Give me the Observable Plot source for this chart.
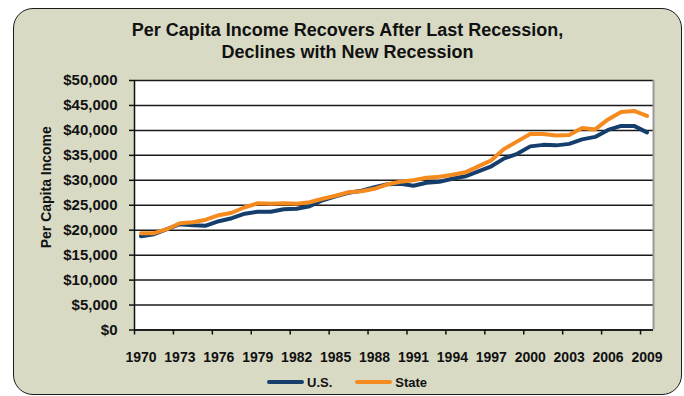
<!DOCTYPE html>
<html>
<head>
<meta charset="utf-8">
<script src="https://cdn.jsdelivr.net/npm/d3@7"></script>
<script src="https://cdn.jsdelivr.net/npm/@observablehq/plot@0.6"></script>
<style>
  html, body { margin: 0; padding: 0; background: #ffffff; }
  body { width: 684px; height: 396px; overflow: hidden; position: relative;
         font-family: "Liberation Sans", Arial, sans-serif; color: #111; }
  #card { position: absolute; left: 13px; top: 8px; width: 669px; height: 387px;
          box-sizing: border-box; border: 1.5px solid #1b1b1b; border-radius: 20px;
          background: #D8DAC4; }
  #title { position: absolute; left: 13px; width: 669px; top: 19px; text-align: center;
           font-weight: bold; font-size: 18px; line-height: 22px; color: #111; }
  #chart { position: absolute; left: 0; top: 0; }
  #legend { position: absolute; top: 374px; left: 267px; height: 16px; display: flex;
            align-items: center; font-weight: bold; font-size: 13px; color: #111; }
  .sw { display: inline-block; width: 37px; height: 4px; border-radius: 2px; margin-right: 3px; }
  .item { display: flex; align-items: center; margin-right: 23px; }
</style>
</head>
<body>
<div id="card"></div>
<div id="title">Per Capita Income Recovers After Last Recession,<br>Declines with New Recession</div>
<div id="chart"></div>
<div id="legend"></div>
<script>
// ---- data ----
const years = [1970, 1971, 1972, 1973, 1974, 1975, 1976, 1977, 1978, 1979,
               1980, 1981, 1982, 1983, 1984, 1985, 1986, 1987, 1988, 1989,
               1990, 1991, 1992, 1993, 1994, 1995, 1996, 1997, 1998, 1999,
               2000, 2001, 2002, 2003, 2004, 2005, 2006, 2007, 2008, 2009];
const usIncome = [18800, 19200, 20200, 21200, 21000, 20900, 21800, 22400, 23300, 23700,
                  23700, 24200, 24300, 24800, 26000, 26800, 27500, 27900, 28600, 29200,
                  29300, 28900, 29500, 29700, 30300, 30800, 31800, 32800, 34400, 35300,
                  36800, 37100, 37000, 37300, 38200, 38700, 40100, 40900, 40900, 39600];
const stateIncome = [19400, 19400, 20200, 21400, 21600, 22100, 23000, 23500, 24600, 25400,
                     25300, 25400, 25300, 25600, 26300, 26900, 27600, 27800, 28300, 29200,
                     29700, 30000, 30500, 30700, 31100, 31600, 32800, 34000, 36300, 37800,
                     39300, 39300, 39000, 39100, 40500, 40200, 42200, 43700, 43900, 42900];
const seriesNames = ["U.S.", "State"];
const seriesColors = ["#163E6C", "#F58B1F"];
const yTicks = [0, 5000, 10000, 15000, 20000, 25000, 30000, 35000, 40000, 45000, 50000];
const xTickLabels = [1970, 1973, 1976, 1979, 1982, 1985, 1988, 1991, 1994, 1997, 2000, 2003, 2006, 2009];

// ---- build table ----
const rows = years.flatMap((yr, i) => [
  {year: yr, value: usIncome[i], series: seriesNames[0]},
  {year: yr, value: stateIncome[i], series: seriesNames[1]}
]);
// tick marks sit on category boundaries (Excel "between tick marks")
const xTickMarks = xTickLabels.map(d => d - 0.5);
const xDomain = [years[0] - 0.5, years[years.length - 1] + 0.5];

const chart = Plot.plot({
  width: 684,
  height: 396,
  marginTop: 80,
  marginBottom: 66.5,
  marginLeft: 134,
  marginRight: 31,
  style: {background: "transparent", fontFamily: "'Liberation Sans', Arial, sans-serif",
          fontWeight: "bold", color: "#111"},
  x: {type: "linear", domain: xDomain},
  y: {domain: [0, 50000]},
  color: {domain: seriesNames, range: seriesColors},
  marks: [
    Plot.frame({fill: "white", stroke: null}),
    Plot.gridY(yTicks, {stroke: "#1a1a1a", strokeOpacity: 1, strokeWidth: 1.5}),
    Plot.ruleX([xDomain[1]], {stroke: "#999", strokeWidth: 2}),
    Plot.axisY({ticks: yTicks, tickFormat: d => "$" + d3.format(",")(d), tickSize: 5,
                tickPadding: 12, fontSize: 15, label: null, stroke: "#111", strokeWidth: 1.5}),
    Plot.axisX({ticks: xTickMarks, tickFormat: () => "", tickSize: 5, label: null,
                stroke: "#111", strokeWidth: 1.5}),
    Plot.axisX({ticks: xTickLabels, tickFormat: d => String(d), tickSize: 0, tickPadding: 22,
                fontSize: 14, label: null}),
    Plot.ruleX([xDomain[0]], {stroke: "#111", strokeWidth: 1.5}),
    Plot.ruleY([0], {stroke: "#111", strokeWidth: 1.5}),
    Plot.line(rows, {x: "year", y: "value", stroke: "series", z: "series", strokeWidth: 4,
                     strokeLinejoin: "round", strokeLinecap: "round"}),
    Plot.text(["Per Capita Income"], {frameAnchor: "left", rotate: -90, textAnchor: "middle",
                                       dx: -88, dy: -18,
                                       fontSize: 14, fontWeight: "bold", fill: "#111"})
  ]
});
document.getElementById("chart").appendChild(chart);

// ---- legend ----
const legend = document.getElementById("legend");
seriesNames.forEach((name, i) => {
  const item = document.createElement("div");
  item.className = "item";
  const sw = document.createElement("span");
  sw.className = "sw";
  sw.style.background = seriesColors[i];
  item.appendChild(sw);
  item.appendChild(document.createTextNode(name));
  legend.appendChild(item);
});
</script>
</body>
</html>
